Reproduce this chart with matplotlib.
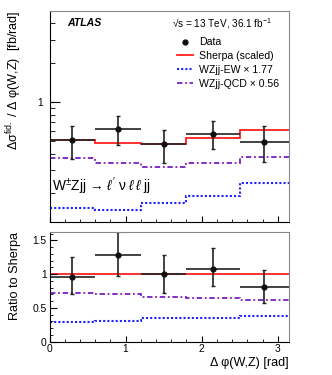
import matplotlib
matplotlib.use("Agg")
import matplotlib.pyplot as plt
import numpy as np
from matplotlib.lines import Line2D
from matplotlib.ticker import FixedLocator, MultipleLocator, NullFormatter

plt.rcParams['font.family'] = ['Liberation Sans', 'DejaVu Sans']
plt.rcParams['mathtext.fontset'] = 'custom'
plt.rcParams['mathtext.rm'] = 'Liberation Sans'
plt.rcParams['mathtext.it'] = 'Liberation Sans:italic'

# bins in delta phi(W,Z)
edges = [0.0, 0.6, 1.2, 1.8, 2.5, np.pi]
x_data = [0.30, 0.90, 1.50, 2.15, 2.82]

# cross section [fb/rad]
data = [0.507, 0.623, 0.475, 0.573, 0.497]
data_up = [0.649, 0.775, 0.612, 0.709, 0.649]
data_dn = [0.366, 0.470, 0.340, 0.435, 0.349]
sherpa = [0.513, 0.489, 0.478, 0.534, 0.612]
wzjj_ew = [0.1545, 0.150, 0.167, 0.190, 0.238]
wzjj_qcd = [0.375, 0.340, 0.320, 0.340, 0.377]

# ratio to sherpa
r_data = [0.965, 1.28, 1.00, 1.08, 0.815]
r_up = [1.25, 1.62, 1.29, 1.39, 1.065]
r_dn = [0.70, 0.98, 0.72, 0.83, 0.58]
r_sherpa = [1.0, 1.0, 1.0, 1.0, 1.0]
r_ew = [0.298, 0.306, 0.347, 0.357, 0.386]
r_qcd = [0.72, 0.71, 0.669, 0.645, 0.615]

RED = '#ff2020'
BLUE = '#2020ff'
PURPLE = '#7a1fc0'

W, H = 332, 375
fig = plt.figure(figsize=(W / 100, H / 100), dpi=100)
ax = fig.add_axes([49.5 / W, 1 - 221.7 / H, 239 / W, 211 / H])
axr = fig.add_axes([49.5 / W, 1 - 341.7 / H, 239 / W, 110 / H])


def hist_lines(a, sh, ew, qcd):
    a.stairs(ew, edges, color=BLUE, lw=1.5, ls=(0, (1, 1)), baseline=None)
    a.stairs(qcd, edges, color=PURPLE, lw=1.3, ls=(0, (3, 1.5, 1, 1.5)), baseline=None)
    a.stairs(sh, edges, color=RED, lw=1.3, baseline=None)


def points(a, y, up, dn):
    xerr = [np.array(x_data) - np.array(edges[:-1]), np.array(edges[1:]) - np.array(x_data)]
    yerr = [np.array(y) - np.array(dn), np.array(up) - np.array(y)]
    a.errorbar(x_data, y, xerr=xerr, fmt='none', ecolor='#222222', elinewidth=1.2)
    a.errorbar(x_data, y, yerr=yerr, fmt='o', color='#111111', ms=3.5,
               ecolor='#222222', elinewidth=1.2, capsize=1.5, capthick=1.0)


hist_lines(ax, sherpa, wzjj_ew, wzjj_qcd)
points(ax, data, data_up, data_dn)
hist_lines(axr, r_sherpa, r_ew, r_qcd)
points(axr, r_data, r_up, r_dn)

for a in (ax, axr):
    a.set_xlim(0, np.pi)
    a.xaxis.set_major_locator(MultipleLocator(1))
    a.xaxis.set_minor_locator(MultipleLocator(0.2))
    a.tick_params(which='both', direction='in', top=False, right=False,
                  labelsize=7.4, pad=2)
    a.tick_params(axis='x', which='major', length=4)
    a.tick_params(axis='x', which='minor', length=2)
    for s in ('top', 'right'):
        a.spines[s].set_color('#888888')
    a.spines['left'].set_linewidth(0.8)
    a.spines['bottom'].set_linewidth(0.8)

ax.set_yscale('log')
ax.set_ylim(0.121, 5.0)
ax.yaxis.set_major_locator(FixedLocator([1.0]))
ax.yaxis.set_minor_locator(FixedLocator([0.2, 0.3, 0.4, 0.5, 0.6, 0.7, 0.8, 0.9, 2, 3, 4]))
ax.yaxis.set_minor_formatter(NullFormatter())
ax.set_yticklabels(['1'])
ax.tick_params(axis='y', which='major', length=7, pad=5)
ax.tick_params(axis='y', which='minor', length=3.5)
ax.set_xticklabels([])

axr.set_ylim(0, 1.63)
axr.yaxis.set_major_locator(MultipleLocator(0.5))
axr.yaxis.set_minor_locator(MultipleLocator(0.1))
axr.set_yticks([0, 0.5, 1, 1.5], ['0', '0.5', '1', '1.5'])
axr.tick_params(axis='y', which='major', length=5)
axr.tick_params(axis='y', which='minor', length=2.5)

ax.set_ylabel('Δσ$^{\\mathrm{fid.}}$ / Δ φ(W,Z)  [fb/rad]', fontsize=9.1, loc='top')
ax.yaxis.set_label_coords(-0.108, 1.0)
axr.set_ylabel('Ratio to Sherpa', fontsize=9.1, loc='top')
axr.yaxis.set_label_coords(-0.118, 1.0)
axr.set_xlabel('Δ φ(W,Z) [rad]', fontsize=9.1, loc='right', labelpad=2)

fig.text(67 / W, 1 - 23.3 / H, 'ATLAS', fontsize=7.6, weight='bold', style='italic', va='center')
fig.text(172 / W, 1 - 23.3 / H, '√s = 13 TeV, 36.1 fb$^{-1}$', fontsize=7.2, va='center')
ax.text(0.012, 0.17, "W$^{\\pm}$Zjj → $\\ell'$ ν $\\ell\\,\\ell$ jj", transform=ax.transAxes,
        fontsize=9.9, va='center')

handles = [
    Line2D([], [], ls='none', marker='o', color='#111111', ms=3.5),
    Line2D([], [], color=RED, lw=1.3),
    Line2D([], [], color=BLUE, lw=1.5, ls=(0, (1, 1))),
    Line2D([], [], color=PURPLE, lw=1.3, ls=(0, (3, 1.5, 1, 1.5))),
]
labels = ['Data', 'Sherpa (scaled)', 'WZjj-EW × 1.77', 'WZjj-QCD × 0.56']
ax.legend(handles, labels, loc='upper left', bbox_to_anchor=(127 / 239, 0.874),
          frameon=False, fontsize=7.6, handlelength=1.6, handletextpad=0.55,
          labelspacing=0.37, borderpad=0, borderaxespad=0)

fig.savefig('out.png', dpi=100)
